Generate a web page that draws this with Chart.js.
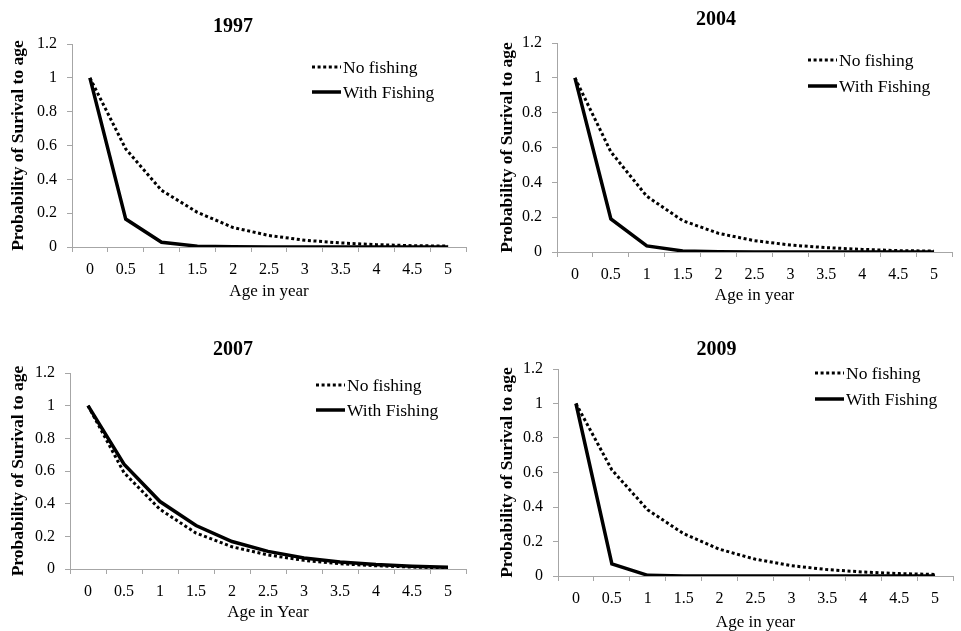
<!DOCTYPE html>
<html>
<head>
<meta charset="utf-8">
<script src="https://cdn.jsdelivr.net/npm/chart.js@4/dist/chart.umd.min.js"></script>
<style>
  html, body { margin: 0; padding: 0; background: #fff; }
  body { width: 961px; height: 631px; position: relative; overflow: hidden; }
  canvas { position: absolute; }
</style>
</head>
<body>
<canvas id="c1997" width="480" height="318" style="left:0px;top:0px"></canvas>
<canvas id="c2004" width="481" height="318" style="left:480px;top:0px"></canvas>
<canvas id="c2007" width="480" height="311" style="left:0px;top:320px"></canvas>
<canvas id="c2009" width="481" height="311" style="left:480px;top:320px"></canvas>
<script>
// ---- data ----
const ages = ['0', '0.5', '1', '1.5', '2', '2.5', '3', '3.5', '4', '4.5', '5'];
const yTickValues = [0, 0.2, 0.4, 0.6, 0.8, 1, 1.2];
const seriesNames = ['No fishing', 'With Fishing'];

const noFishing1997   = [1, 0.58, 0.335, 0.205, 0.115, 0.068, 0.04, 0.024, 0.014, 0.008, 0.005];
const withFishing1997 = [1, 0.165, 0.028, 0.005, 0.001, 0, 0, 0, 0, 0, 0];

const noFishing2004   = [1, 0.575, 0.32, 0.18, 0.107, 0.065, 0.04, 0.025, 0.015, 0.008, 0.005];
const withFishing2004 = [1, 0.19, 0.035, 0.006, 0.001, 0, 0, 0, 0, 0, 0];

const noFishing2007   = [1, 0.59, 0.365, 0.22, 0.136, 0.086, 0.053, 0.032, 0.02, 0.012, 0.007];
const withFishing2007 = [1, 0.642, 0.413, 0.266, 0.168, 0.108, 0.068, 0.043, 0.027, 0.017, 0.011];

const noFishing2009   = [1, 0.615, 0.383, 0.245, 0.155, 0.097, 0.06, 0.037, 0.023, 0.014, 0.009];
const withFishing2009 = [1, 0.07, 0.004, 0, 0, 0, 0, 0, 0, 0, 0];

const panelTitles = ['1997', '2004', '2007', '2009'];
const xTitles = ['Age in year', 'Age in year', 'Age in Year', 'Age in year'];
const yTitle = 'Probability of Surival to age';

// ---- layout / style (not data) ----
const FONT = '"Liberation Serif", "Times New Roman", serif';
const AXIS_COLOR = '#a6a6a6';

const panels = [
  { id: 'c1997', title: panelTitles[0], xTitle: xTitles[0], nf: noFishing1997, wf: withFishing1997,
    yW: 72, xH: 71, right: 14, tPad: [17, 7], xtPad: 17.5, ytPad: 9.5, leg: { x: 312, y: 67, dy: 25 } },
  { id: 'c2004', title: panelTitles[1], xTitle: xTitles[1], nf: noFishing2004, wf: withFishing2004,
    yW: 77, xH: 66, right: 9, tPad: [10, 13], xtPad: 13.5, ytPad: 18.5, leg: { x: 328, y: 60, dy: 26 } },
  { id: 'c2007', title: panelTitles[2], xTitle: xTitles[2], nf: noFishing2007, wf: withFishing2007,
    yW: 70, xH: 62, right: 14, tPad: [20, 13], xtPad: 9.5, ytPad: 9.5, leg: { x: 316, y: 65, dy: 25 } },
  { id: 'c2009', title: panelTitles[3], xTitle: xTitles[3], nf: noFishing2009, wf: withFishing2009,
    yW: 78, xH: 55, right: 8, tPad: [20, 9], xtPad: 0, ytPad: 18.5, leg: { x: 335, y: 53, dy: 26 } }
];

const legendPlugin = {
  id: 'inlineLegend',
  afterDraw(chart, args, opts) {
    const ctx = chart.ctx;
    const L = opts.pos;
    ctx.save();
    chart.data.datasets.forEach((ds, i) => {
      const y = L.y + i * L.dy;
      ctx.beginPath();
      ctx.strokeStyle = '#000';
      ctx.lineWidth = ds.borderWidth;
      ctx.setLineDash(ds.borderDash || []);
      ctx.lineCap = 'butt';
      ctx.moveTo(L.x, y);
      ctx.lineTo(L.x + 29, y);
      ctx.stroke();
      ctx.setLineDash([]);
      ctx.fillStyle = '#000';
      ctx.font = '17.5px ' + FONT;
      ctx.textBaseline = 'middle';
      ctx.textAlign = 'left';
      ctx.fillText(ds.label, L.x + 31, y + 1);
    });
    ctx.restore();
  }
};

panels.forEach(p => {
  new Chart(document.getElementById(p.id), {
    type: 'line',
    data: {
      labels: ages,
      datasets: [
        { label: seriesNames[0], data: p.nf, borderColor: '#000', borderWidth: 3,
          borderDash: [3, 2.6], pointRadius: 0, tension: 0, fill: false },
        { label: seriesNames[1], data: p.wf, borderColor: '#000', borderWidth: 3.5,
          pointRadius: 0, tension: 0, fill: false }
      ]
    },
    plugins: [legendPlugin],
    options: {
      responsive: false,
      animation: false,
      events: [],
      layout: { padding: { left: 0, right: p.right, top: 0, bottom: 0 } },
      plugins: {
        legend: { display: false },
        tooltip: { enabled: false },
        inlineLegend: { pos: p.leg },
        title: {
          display: true, text: p.title, color: '#000',
          font: { family: FONT, size: 20, weight: 'bold', lineHeight: 1 },
          padding: { top: p.tPad[0], bottom: p.tPad[1] }
        }
      },
      scales: {
        x: {
          type: 'category',
          offset: true,
          grid: { display: true, drawOnChartArea: false, drawTicks: true, tickLength: 5,
                  color: AXIS_COLOR, offset: true },
          border: { display: true, color: AXIS_COLOR, width: 1 },
          ticks: { color: '#000', font: { family: FONT, size: 16 }, padding: 8,
                   maxRotation: 0, autoSkip: false },
          title: { display: true, text: p.xTitle, color: '#000',
                   font: { family: FONT, size: 17, lineHeight: 1 },
                   padding: { top: 0, bottom: p.xtPad } },
          afterFit(s) { s.height = p.xH; }
        },
        y: {
          min: 0, max: 1.2,
          afterBuildTicks(s) { s.ticks = yTickValues.map(v => ({ value: v })); },
          grid: { display: true, drawOnChartArea: false, drawTicks: true, tickLength: 5,
                  color: AXIS_COLOR },
          border: { display: true, color: AXIS_COLOR, width: 1 },
          ticks: { color: '#000', font: { family: FONT, size: 16 }, padding: 10,
                   callback: v => String(Math.round(v * 10) / 10) },
          title: { display: true, text: yTitle, color: '#000',
                   font: { family: FONT, size: 17.5, weight: 'bold', lineHeight: 1 },
                   padding: { top: p.ytPad, bottom: 0 } },
          afterFit(s) { s.width = p.yW; }
        }
      }
    }
  });
});
</script>
</body>
</html>
